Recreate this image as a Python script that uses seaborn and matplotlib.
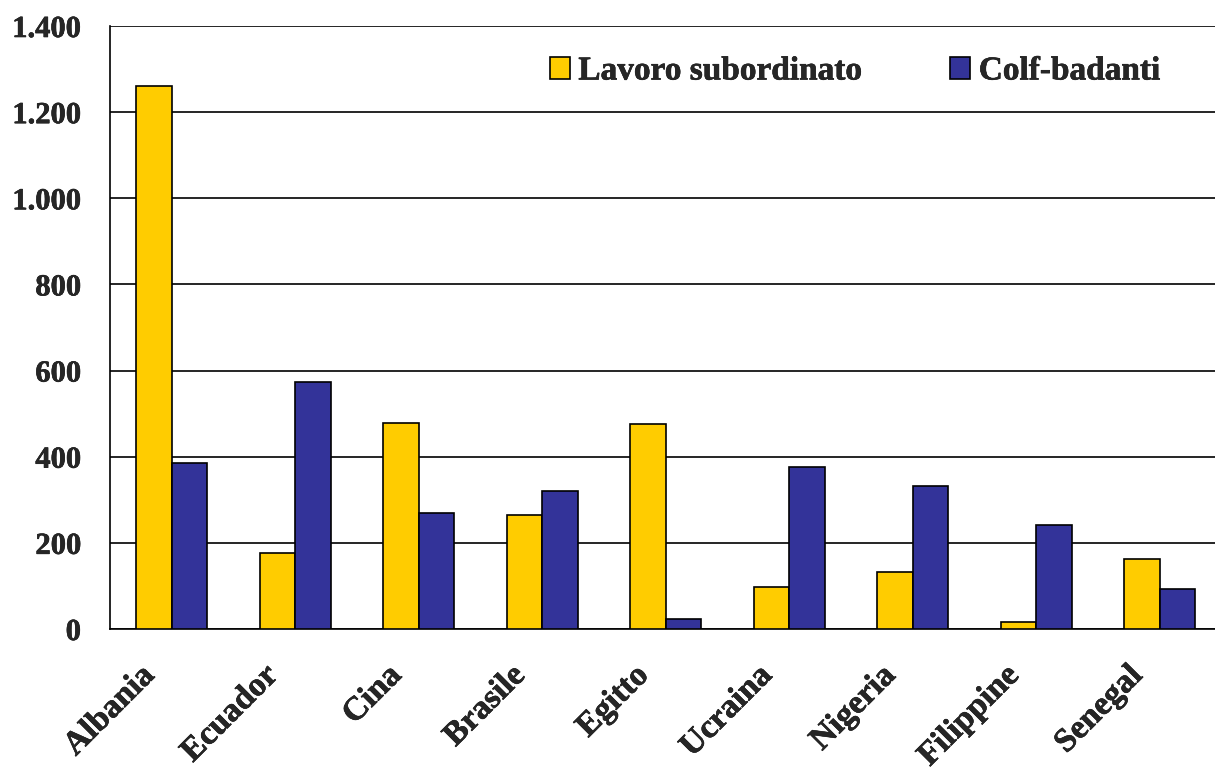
import numpy as np
import pandas as pd
import seaborn as sns
import matplotlib.pyplot as plt
import matplotlib.transforms as mtransforms
import matplotlib.patheffects as pe
from matplotlib.ticker import FuncFormatter, FixedLocator

sns.set_theme(style='white')
plt.rcParams['font.family'] = ['Liberation Serif', 'DejaVu Serif']
plt.rcParams['font.weight'] = 'bold'

paesi = ['Albania', 'Ecuador', 'Cina', 'Brasile', 'Egitto',
         'Ucraina', 'Nigeria', 'Filippine', 'Senegal']
lavoro_subordinato = [1260, 176, 478, 265, 476, 97, 132, 16, 163]
colf_badanti = [385, 573, 269, 320, 23, 376, 332, 241, 93]
serie = ['Lavoro subordinato', 'Colf-badanti']
colori = ['#FFCC00', '#333399']

df = pd.DataFrame({
    'paese': paesi * 2,
    'valore': lavoro_subordinato + colf_badanti,
    'serie': [serie[0]] * len(paesi) + [serie[1]] * len(paesi),
})

fig = plt.figure(figsize=(12.15, 7.74), dpi=100)
ax = fig.add_axes([110 / 1215, 1 - 629 / 774, 1105 / 1215, 603 / 774])

sns.barplot(data=df, x='paese', y='valore', hue='serie', palette=colori,
            saturation=1, width=0.575, edgecolor='black', linewidth=1.2,
            ax=ax, zorder=3)

ax.set_ylim(0, 1400)
ax.set_xlim(-0.5, 8.447)
ax.set_yticks(np.arange(0, 1401, 200))
ax.yaxis.set_major_formatter(FuncFormatter(lambda v, p: f'{int(v):,}'.replace(',', '.')))
ax.grid(axis='y', color='black', linewidth=1.2, zorder=0)
ax.set_axisbelow(True)

for s in ['top', 'right']:
    ax.spines[s].set_visible(False)
for s in ['left', 'bottom']:
    ax.spines[s].set_color('black')
    ax.spines[s].set_linewidth(1.2)

# un filo di contorno per avvicinare il nero pieno del grassetto originale
spessore = [pe.withStroke(linewidth=0.4, foreground='black')]

ax.tick_params(axis='y', which='major', direction='out', length=9, width=1.2,
               color='black', labelsize=22, pad=12)
ax.tick_params(axis='x', which='major', length=0, labelsize=24, pad=22)
ax.xaxis.set_minor_locator(FixedLocator(np.arange(-0.5, 8.5, 1)))
ax.tick_params(axis='x', which='minor', direction='out', length=8, width=1.2,
               color='black')

sposta = mtransforms.ScaledTranslation(-0.33, 0, fig.dpi_scale_trans)
for lbl in ax.get_xticklabels():
    lbl.set_rotation(45)
    lbl.set_ha('right')
    lbl.set_rotation_mode('anchor')
    lbl.set_fontweight('bold')
    lbl.set_transform(lbl.get_transform() + sposta)
    lbl.set_path_effects(spessore)
for lbl in ax.get_yticklabels():
    lbl.set_fontweight('bold')
    lbl.set_path_effects(spessore)

ax.set_xlabel('')
ax.set_ylabel('')

leg = ax.legend(loc='center left', bbox_to_anchor=((550 - 110) / 1105, (629 - 71) / 603),
                ncol=2, frameon=False, borderpad=0, borderaxespad=0,
                prop={'size': 24, 'weight': 'bold'}, handlelength=0.6,
                handleheight=0.65, handletextpad=0.25, columnspacing=2.65)
for t in leg.get_texts():
    t.set_path_effects(spessore)

fig.savefig('out.png', dpi=100)
